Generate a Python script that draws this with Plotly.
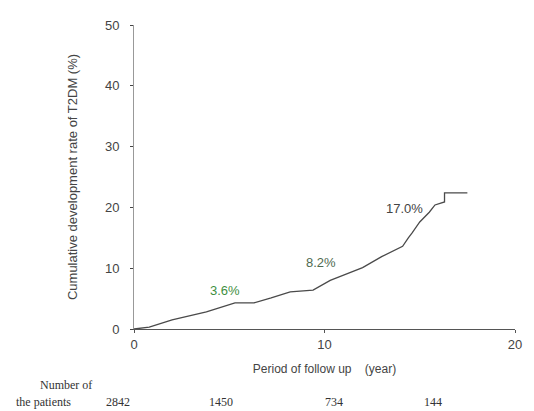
import plotly.graph_objects as go

years = [0, 0.8, 2.0, 3.8, 5.3, 6.3, 7.2, 8.2, 9.4, 10.0, 10.3, 10.8, 12.0, 13.0, 14.1, 14.4, 14.6, 15.0, 15.5, 15.8, 16.3, 16.3, 17.5]
cum_rate = [0, 0.3, 1.5, 2.8, 4.3, 4.3, 5.1, 6.1, 6.4, 7.4, 8.0, 8.6, 10.1, 11.9, 13.6, 15.0, 15.8, 17.6, 19.2, 20.4, 20.9, 22.4, 22.4]

rate_labels = ["3.6%", "8.2%", "17.0%"]
rate_label_x = [4.8, 9.8, 14.2]
rate_label_y = [6.3, 10.9, 19.9]
rate_label_colors = ["#3f8f3f", "#4f6a4f", "#444444"]

at_risk_x = [0, 5, 10, 15]
at_risk_n = ["2842", "1450", "734", "144"]
at_risk_shift = [-16, -8, 9, 13]

x_ticks = [0, 10, 20]
y_ticks = [0, 10, 20, 30, 40, 50]

serif = "Liberation Serif, Times New Roman"
sans = "Arial, Liberation Sans"

fig = go.Figure()
fig.add_trace(go.Scatter(x=years, y=cum_rate, mode="lines",
                         line=dict(color="#4a4a4a", width=1.3),
                         cliponaxis=False, showlegend=False))

for t, x, y, c in zip(rate_labels, rate_label_x, rate_label_y, rate_label_colors):
    fig.add_annotation(x=x, y=y, text=t, showarrow=False,
                       font=dict(family=sans, size=13, color=c))

for x, n, s in zip(at_risk_x, at_risk_n, at_risk_shift):
    fig.add_annotation(x=x, y=0, yref="paper", yanchor="middle", yshift=-73, xshift=s,
                       text=n, showarrow=False,
                       font=dict(family=serif, size=12, color="#333"))

fig.add_annotation(x=-0.105, xref="paper", xanchor="right", y=0, yref="paper",
                   yanchor="middle", yshift=-56,
                   text="Number of", showarrow=False,
                   font=dict(family=serif, size=12, color="#333"))
fig.add_annotation(x=-0.16, xref="paper", xanchor="right", y=0, yref="paper",
                   yanchor="middle", yshift=-73,
                   text="the patients", showarrow=False,
                   font=dict(family=serif, size=12, color="#333"))

fig.update_xaxes(range=[0, 20], tickvals=x_ticks, showgrid=False, zeroline=False,
                 showline=True, linecolor="#555", linewidth=1.2,
                 ticks="outside", ticklen=3, tickcolor="#555",
                 tickfont=dict(family=sans, size=13, color="#444"),
                 title=dict(text="Period of follow up&nbsp;&nbsp;&nbsp;&nbsp;(year)", standoff=13,
                            font=dict(family=sans, size=12, color="#444")))
fig.update_yaxes(range=[0, 50], tickvals=y_ticks, showgrid=False, zeroline=False,
                 showline=True, linecolor="#999", linewidth=1,
                 ticks="outside", ticklen=3, tickcolor="#444", ticklabelstandoff=8,
                 tickfont=dict(family=sans, size=13, color="#444"),
                 title=dict(text="Cumulative development rate of T2DM (%)", standoff=24,
                            font=dict(family=sans, size=13, color="#444")))

fig.update_layout(width=534, height=411, margin=dict(l=134, r=12, t=25, b=82),
                  plot_bgcolor="white", paper_bgcolor="white")

fig.write_html("out.html")
